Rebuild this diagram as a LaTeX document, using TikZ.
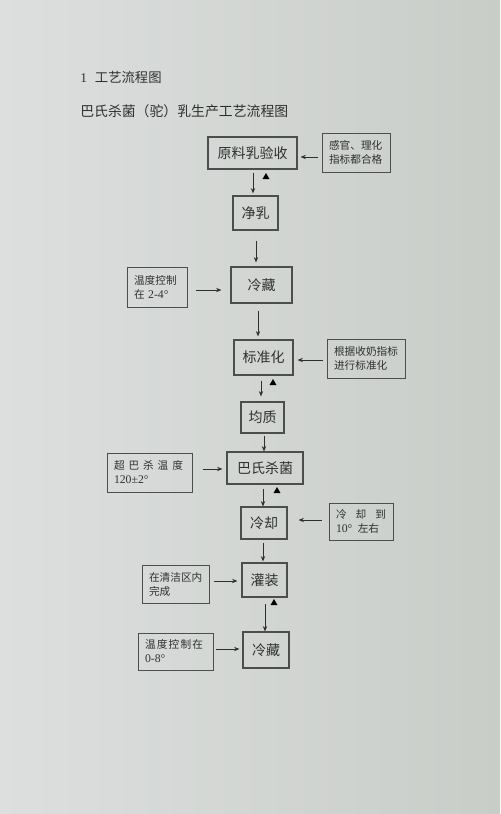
\documentclass[tikz,border=0pt]{standalone}
\usepackage{fontspec}
\setmainfont{Liberation Serif}
\newfontfamily\cjk{Noto Sans CJK SC}
\usetikzlibrary{calc,arrows.meta,shapes.geometric}
\newlength{\pxl}\setlength{\pxl}{0.75pt}
\definecolor{bgl}{HTML}{DCDFDE}
\definecolor{bgr}{HTML}{C9CDC8}
\definecolor{ink}{HTML}{2E3030}
\definecolor{edge}{HTML}{4C4E4E}
\newcommand{\dig}[1]{{\rmfamily\fontsize{8.8}{10.5}\selectfont #1}}
\begin{document}
\begin{tikzpicture}[x=0.75pt,y=-0.75pt,
  mainbox/.style={draw=edge, line width=0.8pt, text=ink, font=\cjk\fontsize{10.5}{12}\selectfont, inner sep=0pt},
  sidebox/.style={draw=edge, line width=0.75pt, text=ink, font=\cjk\fontsize{8}{10.5}\selectfont, align=left, inner xsep=7\pxl, inner ysep=0pt},
  arr/.style={draw=ink, line width=0.7pt, -{Stealth[length=4pt,width=3.2pt]}},
  tri/.style={regular polygon, regular polygon sides=3, fill=black, draw=none, inner sep=0pt, minimum size=8\pxl},
  head/.style={anchor=west, inner sep=0pt, text=ink}]
\useasboundingbox (0,0) rectangle (500,814);
\shade[left color=bgl, right color=bgr] (0,0) rectangle (500,814);

% headings
\node[head, font=\cjk\fontsize{10}{12}\selectfont] (h1) at (80,77) {{\rmfamily 1}\hspace{6pt}工艺流程图};
\node[head, font=\cjk\fontsize{10.4}{12}\selectfont] (h2) at (80,111) {巴氏杀菌（驼）乳生产工艺流程图};

% main boxes
\node[mainbox, minimum width=89\pxl, minimum height=32\pxl] (b1) at (252.5,153) {原料乳验收};
\node[mainbox, minimum width=45\pxl, minimum height=34\pxl] (b2) at (255.5,213) {净乳};
\node[mainbox, minimum width=61\pxl, minimum height=36\pxl] (b3) at (261.5,285) {冷藏};
\node[mainbox, minimum width=59\pxl, minimum height=35\pxl] (b4) at (263.5,357.5) {标准化};
\node[mainbox, minimum width=43\pxl, minimum height=31\pxl] (b5) at (262.5,417.5) {均质};
\node[mainbox, minimum width=76\pxl, minimum height=32\pxl] (b6) at (265,468) {巴氏杀菌};
\node[mainbox, minimum width=46\pxl, minimum height=32\pxl] (b7) at (264,523) {冷却};
\node[mainbox, minimum width=45\pxl, minimum height=34\pxl] (b8) at (264.5,580) {灌装};
\node[mainbox, minimum width=46\pxl, minimum height=36\pxl] (b9) at (266,650) {冷藏};

% side boxes
\node[sidebox, text width=54\pxl, minimum height=39\pxl] (s1) at (356,152.5) {感官、理化\\指标都合格};
\node[sidebox, text width=46\pxl, minimum height=40\pxl] (s2) at (157,287) {温度控制\\在 \dig{2-4°}};
\node[sidebox, text width=64\pxl, minimum height=39\pxl] (s3) at (366,358.5) {根据收奶指标\\进行标准化};
\node[sidebox, text width=71\pxl, minimum height=39\pxl] (s4) at (149.5,472.5) {\makebox[69\pxl][l]{超\hfill 巴\hfill 杀\hfill 温\hfill 度}\\\dig{120±2°}};
\node[sidebox, text width=50\pxl, minimum height=37\pxl] (s5) at (361,521.5) {\makebox[50\pxl][l]{冷\hfill 却\hfill 到}\\\dig{10°}\hspace{4pt}左右};
\node[sidebox, text width=53\pxl, minimum height=38\pxl] (s6) at (175.5,584) {在清洁区内\\完成};
\node[sidebox, text width=61\pxl, minimum height=37\pxl] (s7) at (175.5,651.5) {\makebox[58\pxl][l]{温\hfill 度\hfill 控\hfill 制\hfill 在}\\\dig{0-8°}};

% vertical flow arrows
\draw[arr] ($(b1.south)+(0.5,3)$) -- ($(b1.south |- b2.north)+(0.5,-2)$);
\draw[arr] ($(b2.south)+(0.5,10)$) -- ($(b2.south |- b3.north)+(0.5,-4)$);
\draw[arr] ($(b3.south)+(-3.5,7)$) -- ($(b3.south |- b4.north)+(-3.5,-3)$);
\draw[arr] ($(b4.south)+(-2.5,5)$) -- ($(b4.south |- b5.north)+(-2.5,-5)$);
\draw[arr] ($(b5.south)+(1.5,2)$) -- ($(b5.south |- b6.north)+(1.5,0)$);
\draw[arr] ($(b6.south)+(-2,4)$) -- ($(b6.south |- b7.north)+(-2,0)$);
\draw[arr] ($(b7.south)+(-1,3)$) -- ($(b7.south |- b8.north)+(-1,-1)$);
\draw[arr] ($(b8.south)+(0.5,6)$) -- ($(b8.south |- b9.north)+(0.5,0)$);

% side arrows
\draw[arr] ($(s1.west)+(-4,4.5)$) -- ($(s1.west -| b1.east)+(3,4.5)$);
\draw[arr] ($(s2.east)+(8,3)$) -- ($(s2.east -| b3.west)+(-9,3)$);
\draw[arr] ($(s3.west)+(-4,1.5)$) -- ($(s3.west -| b4.east)+(4,1.5)$);
\draw[arr] ($(s4.east)+(10,-3.5)$) -- ($(s4.east -| b6.west)+(-4,-3.5)$);
\draw[arr] ($(s5.west)+(-7,-1.5)$) -- ($(s5.west -| b7.east)+(11,-1.5)$);
\draw[arr] ($(s6.east)+(4,-3)$) -- ($(s6.east -| b8.west)+(-4,-3)$);
\draw[arr] ($(s7.east)+(2,-2.5)$) -- ($(s7.east -| b9.west)+(-3,-2.5)$);

% critical control point markers
\node[tri] (t1) at (266,177) {};
\node[tri] (t2) at (273,383) {};
\node[tri] (t3) at (277,491) {};
\node[tri] (t4) at (274,603) {};
\end{tikzpicture}
\end{document}
